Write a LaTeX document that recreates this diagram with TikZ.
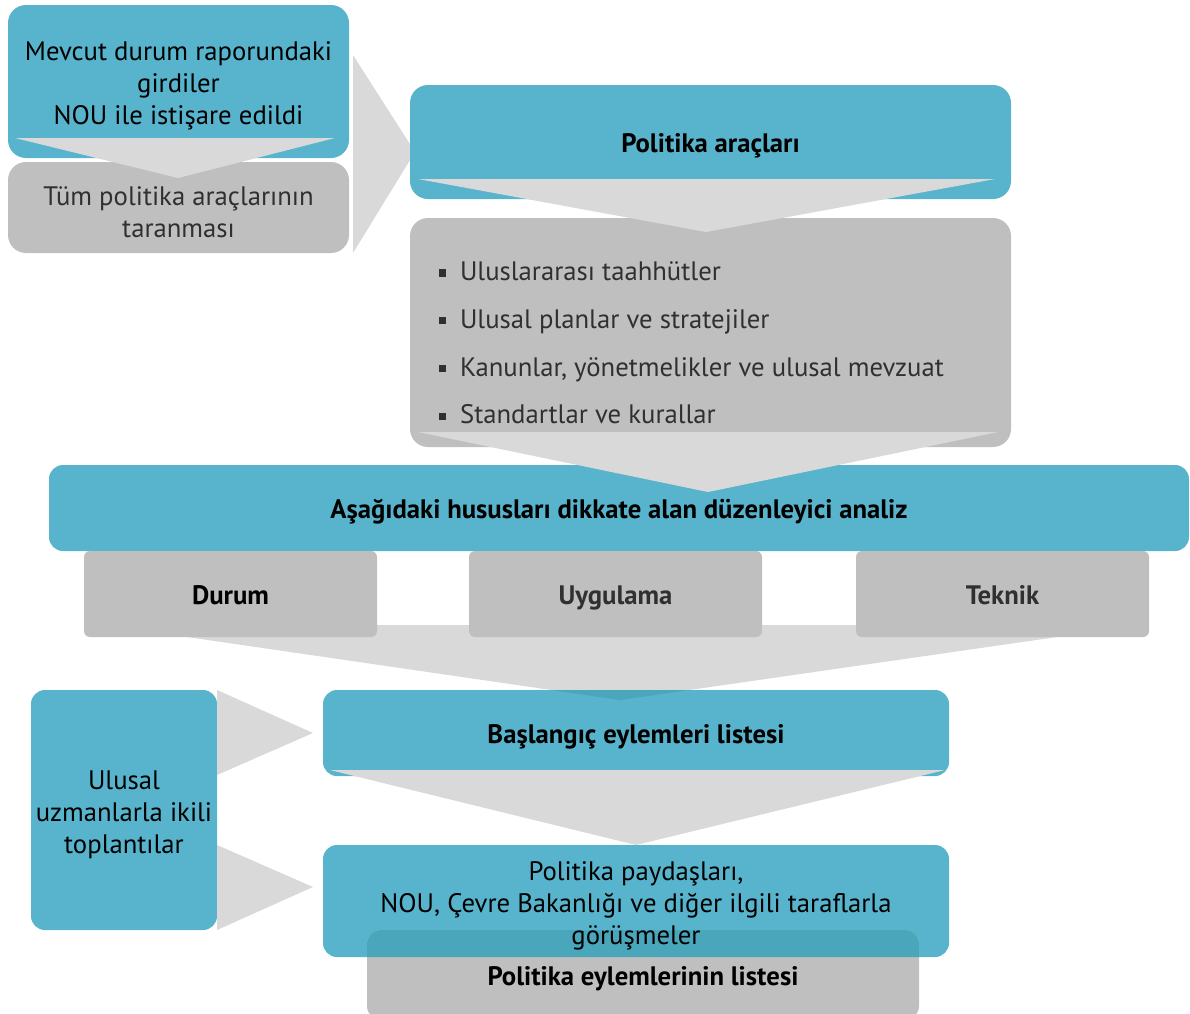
\documentclass[tikz,border=0pt]{standalone}
\usepackage{fontspec}
\setmainfont{PT Sans}
\usetikzlibrary{calc}
\definecolor{boxTeal}{HTML}{57B4CC}
\definecolor{boxGray}{HTML}{BFBFBF}
\definecolor{arrowGray}{HTML}{D9D9D9}
\definecolor{overlapTeal}{HTML}{49A6BB}
\definecolor{textGray}{HTML}{303030}
\newcommand{\pxUnit}{0.025cm}
\newcommand{\bodySize}{\fontsize{19}{22.7}\selectfont}
\newcommand{\topPad}{\rule{0pt}{20pt}}
\newcommand{\sqBullet}{\raisebox{0.3ex}{\rule{5pt}{5pt}}\hspace{10pt}}

\tikzset{
  tealBox/.style={fill=boxTeal, rounded corners=0.45cm, align=center, font=\bodySize, inner sep=0pt},
  grayBox/.style={fill=boxGray, rounded corners=0.45cm, align=center, font=\bodySize, text=textGray, inner sep=0pt},
  oneLine/.style={font=\bodySize\bfseries, text height=15pt, text depth=0pt},
  chevronFill/.style={fill=arrowGray}
}

\begin{document}
\begin{tikzpicture}[x=\pxUnit, y=-\pxUnit]
\useasboundingbox (0,0) rectangle (1190,1013);

% top left: inputs and screening
\node[tealBox, minimum width=341*\pxUnit, minimum height=153*\pxUnit] (mevcut) at (178.5,81.5)
  {\topPad Mevcut durum raporundaki\\girdiler\\NOU ile istişare edildi};
\node[grayBox, minimum width=341*\pxUnit, minimum height=91*\pxUnit] (tarama) at (178.5,207.5)
  {\topPad Tüm politika araçlarının\\taranması};
\fill[chevronFill] (15,138) -- (335,138) -- (178,178) -- cycle;
\fill[chevronFill] (353,55) -- (415,152) -- (353,253) -- cycle;

% policy instruments
\node[tealBox, oneLine, minimum width=601*\pxUnit, minimum height=114*\pxUnit] (araclar) at (710.5,142)
  {Politika araçları};
\node[grayBox, minimum width=601*\pxUnit, minimum height=229*\pxUnit] (aracListe) at (710.5,332.5) {};
\node[anchor=west, align=left, font=\bodySize, text=textGray] (liste) at (434,343)
  {\sqBullet Uluslararası taahhütler\\[11.3pt]
   \sqBullet Ulusal planlar ve stratejiler\\[11.3pt]
   \sqBullet Kanunlar, yönetmelikler ve ulusal mevzuat\\[11.3pt]
   \sqBullet Standartlar ve kurallar};
\fill[chevronFill] (418,179) -- (995,179) -- (706,232) -- cycle;

% regulatory analysis
\node[tealBox, oneLine, rounded corners=0.35cm, minimum width=1140*\pxUnit, minimum height=86*\pxUnit] (analiz) at (619,508)
  {Aşağıdaki hususları dikkate alan düzenleyici analiz};
\fill[chevronFill] (418,432) -- (998,432) -- (708,492) -- cycle;
\fill[chevronFill] (187,625) -- (1057,625) -- (1057,637) -- (620,700) -- (187,637) -- cycle;
\node[grayBox, oneLine, rounded corners=0.15cm, minimum width=293*\pxUnit, minimum height=86*\pxUnit, text=black] (durum) at (230.5,594) {Durum};
\node[grayBox, oneLine, rounded corners=0.15cm, minimum width=293*\pxUnit, minimum height=86*\pxUnit] (uygulama) at (615.5,594) {Uygulama};
\node[grayBox, oneLine, rounded corners=0.15cm, minimum width=293*\pxUnit, minimum height=86*\pxUnit] (teknik) at (1002.5,594) {Teknik};

% action lists
\node[tealBox, oneLine, rounded corners=0.35cm, minimum width=626*\pxUnit, minimum height=86*\pxUnit] (baslangic) at (636,733)
  {Başlangıç eylemleri listesi};
\begin{scope}
  \clip[rounded corners=0.35cm] (323,690) rectangle (949,776);
  \fill[overlapTeal] (187,625) -- (1057,625) -- (1057,637) -- (620,700) -- (187,637) -- cycle;
\end{scope}
\fill[chevronFill] (330,770) -- (945,770) -- (636,845) -- cycle;
\node[tealBox, rounded corners=0.35cm, minimum width=626*\pxUnit, minimum height=112*\pxUnit] (gorusme) at (636,901) {};
\node[grayBox, oneLine, rounded corners=0.35cm, minimum width=552*\pxUnit, minimum height=90*\pxUnit, text=black] (eylemListe) at (643,975)
  {Politika eylemlerinin listesi};
\begin{scope}
  \clip[rounded corners=0.35cm] (323,845) rectangle (949,957);
  \fill[overlapTeal, rounded corners=0.35cm] (367,930) rectangle (919,1020);
\end{scope}
\node[align=center, font=\bodySize] (gorusmeText) at (gorusme)
  {\topPad Politika paydaşları,\\NOU, Çevre Bakanlığı ve diğer ilgili taraflarla\\görüşmeler};

% bilateral meetings
\node[tealBox, rounded corners=0.35cm, minimum width=186*\pxUnit, minimum height=240*\pxUnit] (ikili) at (124,810)
  {\topPad Ulusal\\uzmanlarla ikili\\toplantılar};
\fill[chevronFill] (217,690) -- (313,733) -- (217,775) -- cycle;
\fill[chevronFill] (217,845) -- (313,887) -- (217,930) -- cycle;
\end{tikzpicture}
\end{document}
